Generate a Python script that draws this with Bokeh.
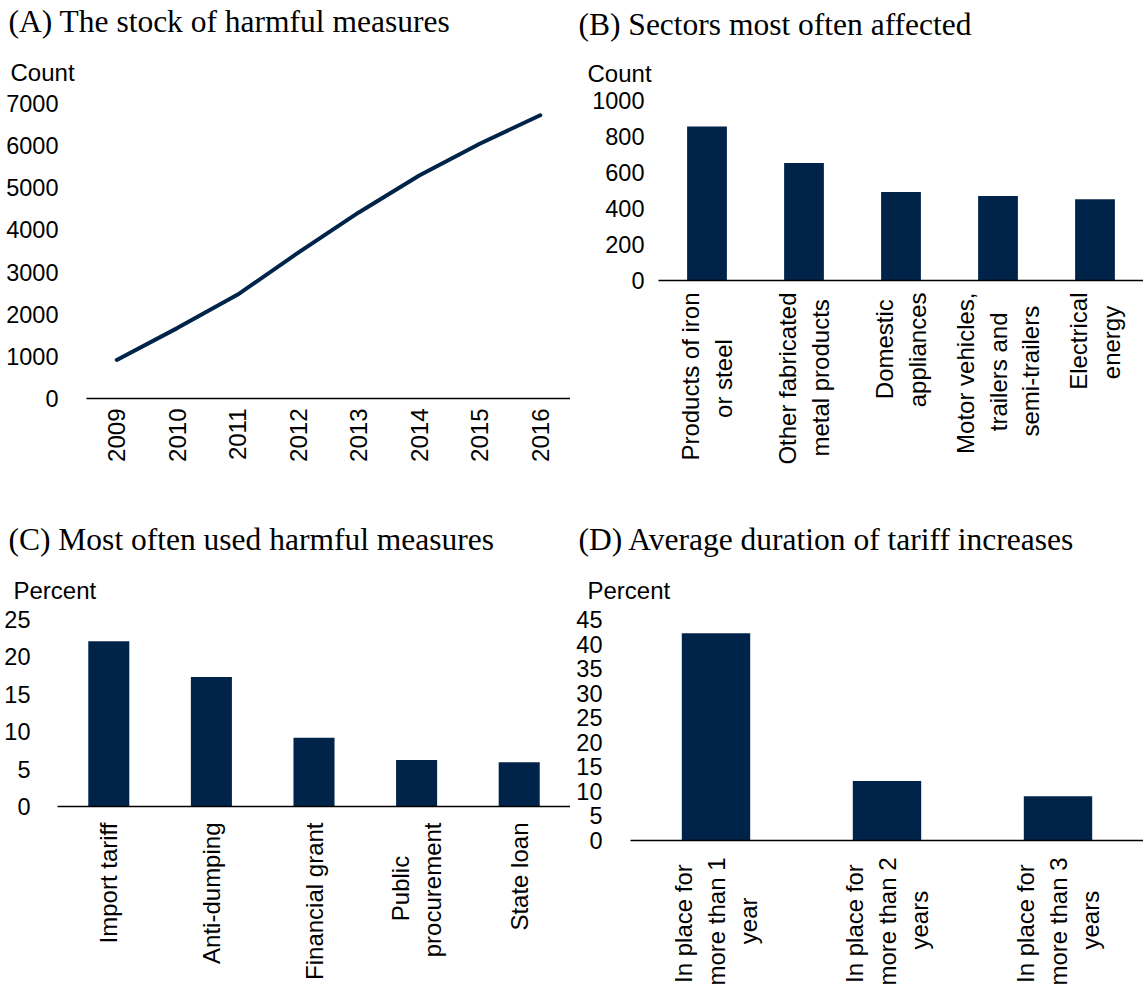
from math import pi
from bokeh.plotting import figure
from bokeh.layouts import row, column
from bokeh.models import Range1d, FactorRange, SingleIntervalTicker, Title
from bokeh.embed import file_html
from bokeh.resources import INLINE

# ---------------- data ----------------
NB = "\u00a0"
years = ["2009", "2010", "2011", "2012", "2013", "2014", "2015", "2016"]
stock_count = [915, 1670, 2466, 3460, 4415, 5290, 6046, 6722]

sectors = ["Products of iron\nor steel" + NB * 7,
           "Other fabricated\nmetal products" + NB,
           "Domestic" + NB + "\nappliances",
           "Motor vehicles,\ntrailers and" + NB * 3 + "\nsemi-trailers" + NB * 2,
           "Electrical\nenergy" + NB * 2]
sector_count = [855, 653, 491, 470, 452]

measures = ["Import tariff", "Anti-dumping", "Financial grant",
            "Public" + NB * 5 + "\nprocurement", "State loan"]
measure_pct = [22.1, 17.3, 9.2, 6.2, 5.9]

durations = ["In place for" + NB + "\nmore than 1\nyear" + NB * 6,
             "In place for" + NB + "\nmore than 2\nyears" + NB * 5,
             "In place for" + NB + "\nmore than 3\nyears" + NB * 5]
duration_pct = [42.2, 12.1, 9.0]

titles = ["(A) The stock of harmful measures", "(B) Sectors most often affected",
          "(C) Most often used harmful measures", "(D) Average duration of tariff increases"]
unit_labels = ["Count", "Count", "Percent", "Percent"]

NAVY = "#00234A"
SANS = "Liberation Sans"
SERIF = "Liberation Serif"
YFS = "23.5px"
XFS = "24px"
UFS = "24px"
TFS = "31.5px"


def make_panel(factors, ymax, step, left, top, bottom, fw, fh,
               title, unit, title_dx, title_so, unit_dx, unit_so,
               ystandoff, xstandoff):
    p = figure(x_range=FactorRange(factors=factors), y_range=Range1d(0, ymax),
               frame_width=fw, frame_height=fh, output_backend="svg",
               toolbar_location=None, title=None,
               min_border_left=left, min_border_right=0,
               min_border_top=top, min_border_bottom=bottom)
    p.outline_line_color = None
    p.xgrid.visible = False
    p.ygrid.visible = False
    p.background_fill_color = "white"
    p.border_fill_color = "white"

    ya = p.yaxis[0]
    ya.ticker = SingleIntervalTicker(interval=step)
    ya.axis_line_color = None
    ya.major_tick_line_color = None
    ya.minor_tick_line_color = None
    ya.major_tick_in = 0
    ya.major_tick_out = 0
    ya.major_label_standoff = ystandoff
    ya.major_label_text_font = SANS
    ya.major_label_text_font_size = YFS
    ya.major_label_text_color = "black"

    xa = p.xaxis[0]
    xa.axis_line_color = "black"
    xa.axis_line_width = 1.5
    xa.major_tick_line_color = None
    xa.minor_tick_line_color = None
    xa.major_tick_in = 0
    xa.major_tick_out = 0
    xa.major_label_orientation = pi / 2
    xa.major_label_standoff = xstandoff
    xa.major_label_text_font = SANS
    xa.major_label_text_font_size = XFS
    xa.major_label_text_color = "black"

    p.add_layout(Title(text=unit, align="left", vertical_align="top",
                       offset=unit_dx, standoff=unit_so,
                       text_font=SANS, text_font_size=UFS, text_font_style="normal",
                       text_color="black"), "above")
    p.add_layout(Title(text=title, align="left", vertical_align="top",
                       offset=title_dx, standoff=title_so,
                       text_font=SERIF, text_font_size=TFS, text_font_style="normal",
                       text_color="black"), "above")
    return p


# Panel A
pa = make_panel(years, 7000, 1000, 86, 103, 117, 484, 295,
                titles[0], unit_labels[0], -78, 5, -76, 31, 24, 10)
pa.line(x=years, y=stock_count, line_color=NAVY, line_width=4,
        line_join="round", line_cap="round")

# Panel B
pb = make_panel(sectors, 1000, 200, 88, 100, 235, 485, 180,
                titles[1], unit_labels[1], -80, 10, -71, 23, 10, 12)
pb.vbar(x=sectors, top=sector_count, width=0.41, fill_color=NAVY, line_color=None)

# Panel C
pc = make_panel(measures, 25, 5, 57, 104, 188, 513, 187,
                titles[2], unit_labels[2], -49, 10, -44, 27, 23, 16)
pc.vbar(x=measures, top=measure_pct, width=0.40, fill_color=NAVY, line_color=None)

# Panel D
pd_ = make_panel(durations, 45, 5, 60, 104, 154, 513, 221,
                 titles[3], unit_labels[3], -52, 10, -43, 27, 24, 17)
pd_.vbar(x=durations, top=duration_pct, width=0.40, fill_color=NAVY, line_color=None)

layout = column(row(column(pa), column(pb)), row(column(pc), column(pd_)))

open("out.html", "w").write(file_html(layout, INLINE))
